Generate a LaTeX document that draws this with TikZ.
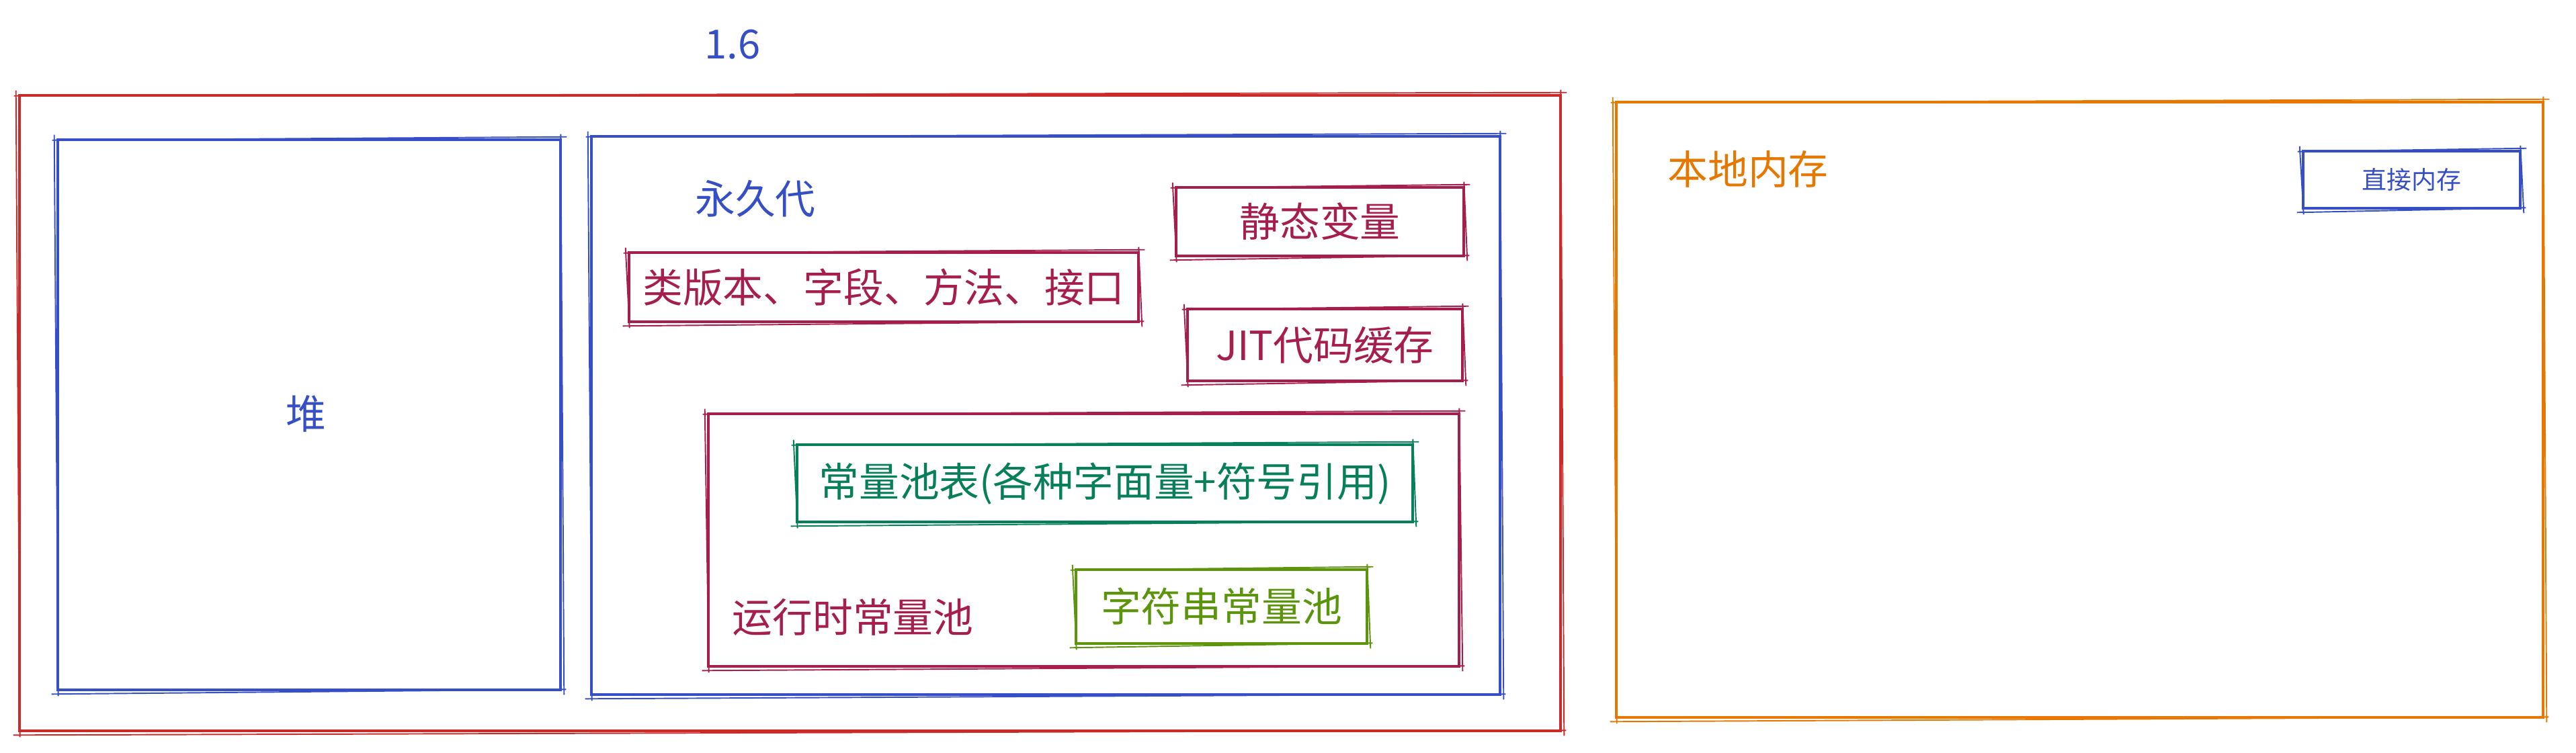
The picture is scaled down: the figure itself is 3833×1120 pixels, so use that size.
\documentclass[tikz,border=0pt]{standalone}
\usepackage{fontspec}
\newfontfamily\cjk{Noto Sans CJK SC}
\definecolor{cred}{HTML}{C92A2A}
\definecolor{cblue}{HTML}{364FC7}
\definecolor{ccrim}{HTML}{A61E4D}
\definecolor{cgreen}{HTML}{087F5B}
\definecolor{clime}{HTML}{5C940D}
\definecolor{corange}{HTML}{E67700}
\tikzset{
  box/.style={draw, rectangle, line width=1.3pt, inner sep=0pt, font=\cjk\fontsize{17}{20}\selectfont},
  lbl/.style={inner sep=0pt, font=\cjk\fontsize{17}{20}\selectfont},
  small/.style={font=\cjk\fontsize{10.5}{13}\selectfont},
}
\newcommand{\rough}[2]{%
  \draw[#2, line width=0.55pt]
    ([shift={(-6,3)}]#1.north west) -- ([shift={(7,-2)}]#1.north east)
    ([shift={(-2,-6)}]#1.north east) -- ([shift={(3,5)}]#1.south east)
    ([shift={(6,-3)}]#1.south east) -- ([shift={(-7,4)}]#1.south west)
    ([shift={(3,7)}]#1.south west) -- ([shift={(-3,-5)}]#1.north west);}
\begin{document}
\begin{tikzpicture}[x=0.01cm,y=-0.01cm]
\useasboundingbox (0,0) rectangle (3833,1120);
% outer boxes
\node[box, cred, minimum width=2293*0.01cm, minimum height=946*0.01cm] (jvm) at (1175.5,615) {};
\node[box, cblue, minimum width=748*0.01cm, minimum height=819*0.01cm, text=cblue] (heap) at (460,617.5) {};
\node[box, cblue, minimum width=1352*0.01cm, minimum height=831*0.01cm] (perm) at (1556,618.5) {};
\node[box, corange, minimum width=1379*0.01cm, minimum height=916*0.01cm] (native) at (3094.5,610) {};
% inner boxes
\node[box, ccrim, minimum width=428*0.01cm, minimum height=102*0.01cm] (static) at (1964,330) {静态变量};
\node[box, ccrim, minimum width=758*0.01cm, minimum height=103*0.01cm] (classver) at (1315,427.5) {类版本、字段、方法、接口};
\node[box, ccrim, minimum width=409*0.01cm, minimum height=107*0.01cm] (jit) at (1971.5,513.5) {JIT代码缓存};
\node[box, ccrim, minimum width=1117*0.01cm, minimum height=376*0.01cm] (rcp) at (1612.5,804) {};
\node[box, cgreen, minimum width=916*0.01cm, minimum height=115*0.01cm] (cpt) at (1644,719.5) {常量池表(各种字面量+符号引用)};
\node[box, clime, minimum width=433*0.01cm, minimum height=110*0.01cm] (scp) at (1817.5,903) {字符串常量池};
\node[box, cblue, small, minimum width=323*0.01cm, minimum height=85*0.01cm] (direct) at (3588.5,267.5) {直接内存};
% labels
\node[lbl, text=cblue] (ver) at (1090,66) {1.6};
\node[lbl, text=cblue] (heapl) at (455,616) {堆};
\node[lbl, text=cblue] (perml) at (1124,296) {永久代};
\node[lbl, text=ccrim] (rcpl) at (1269,919) {运行时常量池};
\node[lbl, text=corange] (nativel) at (2601,252) {本地内存};
% sketchy second strokes
\rough{jvm}{cred}
\rough{heap}{cblue}
\rough{perm}{cblue}
\rough{native}{corange}
\rough{static}{ccrim}
\rough{classver}{ccrim}
\rough{jit}{ccrim}
\rough{rcp}{ccrim}
\rough{cpt}{cgreen}
\rough{scp}{clime}
\rough{direct}{cblue}
\end{tikzpicture}
\end{document}
